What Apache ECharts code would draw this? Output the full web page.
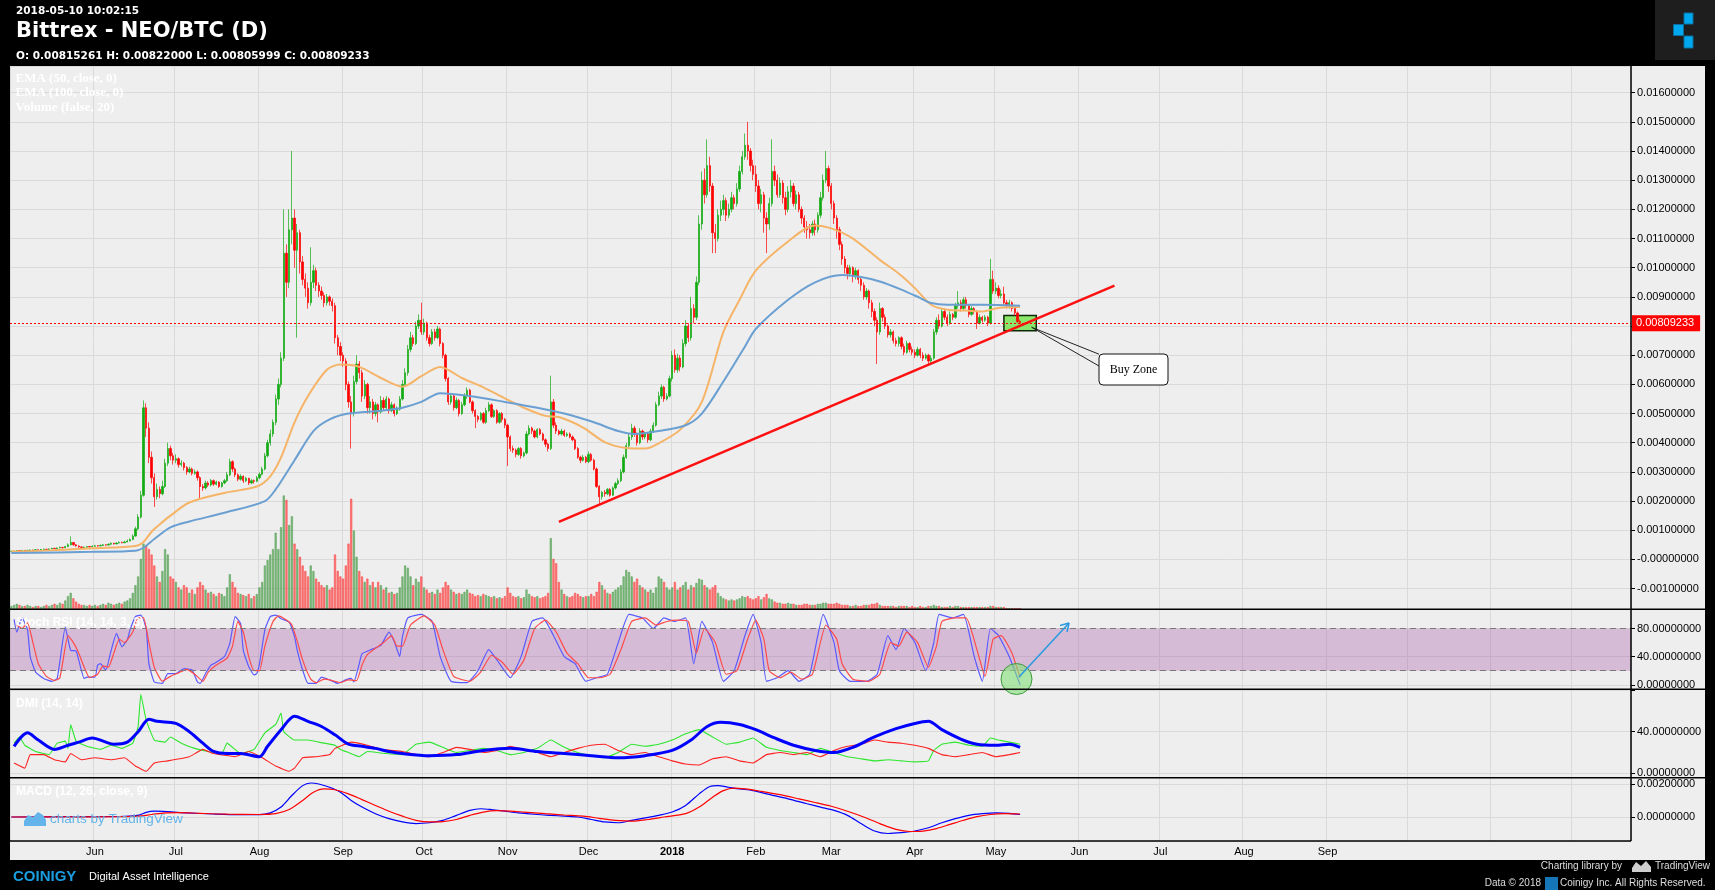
<!DOCTYPE html>
<html><head><meta charset="utf-8">
<script src="https://cdn.jsdelivr.net/npm/echarts@6/dist/echarts.min.js"></script>
<style>html,body{margin:0;padding:0;background:#000;}#c{width:1715px;height:890px;}</style>
</head><body><div id="c"></div>
<script>
// ---------------- DATA ----------------
// daily candles from 2017-05-01, [open, close, low, high] in units of 1e-5 BTC
const candles = [
// May 2017
[27,28,26,30],[28,29,27,30],[29,30,28,32],[30,29,28,31],[29,31,28,32],[31,30,29,32],[30,31,29,33],[31,32,30,34],[32,31,30,33],[31,33,30,35],
[33,32,31,34],[32,34,31,36],[34,35,33,37],[35,34,33,36],[34,36,33,38],[36,38,35,40],[38,37,36,40],[37,39,36,41],[39,41,38,44],[41,40,38,43],
[40,44,39,47],[44,50,43,55],[50,58,48,79],[58,50,47,60],[50,46,44,52],[46,43,40,48],[43,40,38,45],[40,42,39,44],[42,44,41,46],[44,43,41,46],[43,45,42,48],
// Jun
[45,47,44,50],[47,46,44,49],[46,48,45,51],[48,50,47,53],[50,49,47,52],[49,52,48,55],[52,55,51,58],[55,53,51,57],[53,56,52,59],[56,58,55,62],
[58,57,55,61],[57,60,56,64],[60,63,59,68],[63,68,62,72],[68,80,66,86],[80,105,78,112],[105,145,100,155],[145,220,140,235],[220,520,215,545],[520,450,420,535],
[450,350,330,470],[350,280,260,370],[280,215,180,295],[215,240,205,260],[240,225,210,250],[225,250,220,270],[250,330,245,345],[330,380,320,400],[380,355,340,390],[355,340,325,365],
// Jul
[340,345,330,360],[345,325,315,350],[325,330,318,340],[330,315,305,335],[315,300,290,320],[300,310,295,318],[310,295,288,315],[295,300,290,308],[300,280,270,305],[280,250,210,285],
[250,245,235,258],[245,262,240,270],[262,255,248,268],[255,270,250,276],[270,258,252,274],[258,265,254,270],[265,250,245,268],[250,262,246,266],[262,270,258,276],[270,290,265,300],
[290,335,285,345],[335,310,300,340],[310,290,282,315],[290,275,268,295],[275,285,270,292],[285,270,262,288],[270,278,265,283],[278,262,255,280],[262,270,258,275],[270,268,260,274],[268,280,265,286],
// Aug
[280,292,275,298],[292,310,288,318],[310,355,305,365],[355,400,350,410],[400,430,390,445],[430,470,420,480],[470,550,460,565],[550,600,530,620],[600,690,590,710],[690,1050,680,1200],
[1050,950,900,1080],[950,1130,930,1200],[1130,1170,1080,1400],[1170,1060,1000,1200],[1060,1120,760,1150],[1120,1020,980,1130],[1020,960,940,1040],[960,930,900,980],[930,880,860,950],[880,950,870,1070],
[950,990,930,1010],[990,940,920,1000],[940,920,900,950],[920,905,890,935],[905,880,865,915],[880,900,870,910],[900,885,870,905],[885,870,850,895],[870,760,740,880],[760,730,700,770],[730,700,680,745],
// Sep
[700,680,660,710],[680,600,580,690],[600,540,520,610],[540,500,380,560],[500,610,490,630],[610,670,600,700],[670,640,620,680],[640,560,540,650],[560,600,550,615],[600,520,500,605],
[520,540,500,560],[540,500,480,550],[500,530,490,540],[530,505,470,535],[505,545,500,560],[545,520,510,555],[520,550,515,560],[550,510,500,555],[510,530,505,540],[530,500,490,535],
[500,515,495,525],[515,550,510,560],[550,600,545,615],[600,640,595,655],[640,720,630,735],[720,760,710,780],[760,740,730,770],[740,800,735,815],[800,820,790,840],[820,780,770,880],
// Oct
[780,810,770,825],[810,760,750,815],[760,740,730,770],[740,780,735,790],[780,760,750,790],[760,790,755,800],[790,740,730,795],[740,700,690,745],[700,620,610,705],[620,540,530,625],
[540,560,530,570],[560,520,510,565],[520,545,515,555],[545,500,490,550],[500,530,495,540],[530,560,525,570],[560,580,550,590],[580,540,535,585],[540,510,500,545],[510,490,450,515],
[490,480,470,495],[480,500,475,505],[500,470,465,505],[470,510,465,520],[510,530,505,540],[530,490,485,535],[490,510,485,515],[510,470,465,515],[470,500,465,505],[500,480,470,505],[480,460,450,485],
// Nov
[460,420,320,465],[420,380,370,425],[380,375,365,390],[375,360,350,380],[360,380,355,385],[380,355,345,385],[355,365,350,370],[365,430,360,440],[430,450,425,460],[450,440,430,455],
[440,420,415,445],[420,445,415,450],[445,430,425,450],[430,410,405,435],[410,395,385,415],[395,380,370,400],[380,540,375,630],[540,460,450,550],[460,440,430,470],[440,430,425,445],
[430,440,425,448],[440,425,420,445],[425,430,420,436],[430,420,415,435],[420,410,405,425],[410,380,375,415],[380,350,345,385],[350,340,330,355],[340,350,335,358],[350,335,330,355],
// Dec
[335,360,330,370],[360,340,335,365],[340,310,305,345],[310,250,245,315],[250,215,190,255],[215,230,205,235],[230,225,215,238],[225,240,220,245],[240,220,215,245],[220,245,218,250],
[245,260,240,266],[260,270,255,278],[270,300,265,310],[300,350,295,360],[350,390,345,400],[390,420,380,430],[420,450,410,465],[450,430,420,458],[430,400,390,435],[400,440,395,450],
[440,420,410,445],[420,430,412,438],[430,410,400,435],[410,440,405,448],[440,460,435,470],[460,530,455,540],[530,560,525,575],[560,590,550,600],[590,550,540,595],[550,560,545,570],[560,620,555,630],
// Jan 2018
[620,700,610,715],[700,650,640,720],[650,690,640,705],[690,660,645,700],[660,740,655,755],[740,800,730,820],[800,760,745,810],[760,860,750,900],[860,830,810,875],[830,950,820,970],
[950,1150,940,1180],[1150,1300,1130,1330],[1300,1250,1220,1340],[1250,1350,1240,1440],[1350,1280,1260,1380],[1280,1120,1050,1290],[1120,1100,1050,1150],[1100,1180,1090,1200],[1180,1200,1160,1230],[1200,1230,1180,1250],
[1230,1180,1160,1240],[1180,1200,1170,1220],[1200,1240,1190,1260],[1240,1220,1200,1250],[1220,1270,1210,1290],[1270,1330,1260,1350],[1330,1380,1320,1400],[1380,1420,1370,1460],[1420,1400,1370,1500],[1400,1350,1330,1410],[1350,1320,1300,1370],
// Feb
[1320,1280,1260,1350],[1280,1220,1200,1300],[1220,1250,1190,1270],[1250,1170,1120,1260],[1170,1150,1050,1190],[1150,1220,1130,1240],[1220,1330,1210,1440],[1330,1300,1280,1350],[1300,1250,1240,1320],[1250,1290,1240,1310],
[1290,1240,1220,1300],[1240,1200,1180,1260],[1200,1260,1190,1280],[1260,1280,1240,1300],[1280,1220,1210,1290],[1220,1250,1200,1265],[1250,1200,1190,1260],[1200,1170,1150,1210],[1170,1140,1120,1180],[1140,1130,1100,1160],
[1130,1120,1100,1150],[1120,1150,1110,1160],[1150,1130,1110,1165],[1130,1180,1120,1190],[1180,1240,1170,1260],[1240,1300,1230,1320],[1300,1340,1290,1400],[1340,1280,1260,1350],
// Mar
[1280,1220,1200,1290],[1220,1170,1150,1230],[1170,1130,1100,1180],[1130,1080,1060,1140],[1080,1030,1010,1090],[1030,1000,980,1040],[1000,980,960,1010],[980,1000,970,1010],[1000,970,950,1005],[970,990,960,1000],
[990,960,945,995],[960,940,920,970],[940,900,890,950],[900,920,890,930],[920,880,860,925],[880,850,830,890],[850,820,800,860],[820,780,670,830],[780,860,770,880],[860,830,815,865],
[830,800,790,840],[800,770,760,805],[770,780,760,790],[780,750,740,785],[750,740,730,760],[740,760,730,765],[760,730,720,765],[730,710,700,740],[710,740,705,750],[740,720,710,745],[720,710,700,730],
// Apr
[710,700,690,720],[700,720,695,728],[720,700,690,725],[700,690,680,710],[690,700,685,706],[700,680,668,705],[680,690,672,700],[690,780,685,790],[780,820,770,830],[820,800,790,840],
[800,850,795,860],[850,830,820,860],[830,810,800,840],[810,840,805,850],[840,830,820,845],[830,870,825,880],[870,880,860,920],[880,860,850,890],[860,890,855,900],[890,870,860,900],
[870,840,830,875],[840,860,835,870],[860,850,840,865],[850,810,790,855],[810,830,805,840],[830,820,812,835],[820,830,815,838],[830,810,800,835],[810,960,805,1030],[960,920,910,990],
// May 2018
[920,930,910,950],[930,905,895,940],[905,910,895,925],[910,880,870,935],[880,870,860,890],[870,880,860,890],[880,860,850,885],[860,845,835,865],[845,815,810,850],[815.261,809.233,805.999,822]
];
// daily volume (relative bar height)
const volumes = [
3,4,5,4,3,3,4,3,2,3,3,2,3,4,3,4,5,4,6,5,8,12,15,10,7,5,4,4,3,4,3,
4,3,4,5,4,6,5,4,5,6,5,7,8,10,15,22,30,46,60,58,55,50,40,30,25,35,55,50,30,28,
25,20,18,22,20,15,18,14,20,25,22,18,15,16,14,12,15,14,12,20,32,25,20,15,14,13,12,14,10,12,14,
20,25,40,45,50,55,70,55,75,104,100,77,85,60,55,48,40,35,30,40,35,28,25,22,20,22,18,20,50,35,30,
28,40,60,101,72,48,35,30,25,28,22,25,20,25,22,18,20,15,16,14,15,20,30,40,38,30,22,28,25,30,
20,18,15,16,14,18,15,20,25,22,18,16,14,15,14,16,18,15,14,12,13,12,14,13,12,11,12,10,11,10,12,
20,15,12,11,12,10,11,18,14,12,11,12,10,11,12,15,65,46,42,25,18,14,12,11,12,15,14,12,11,12,
12,14,12,16,25,22,18,15,14,16,18,20,22,30,36,34,30,25,28,22,20,18,16,18,15,20,30,28,25,20,18,
20,25,18,20,22,25,18,22,20,24,28,27,22,20,18,20,22,15,12,10,9,8,9,8,9,10,12,11,12,10,9,
10,12,9,11,14,10,9,7,6,6,5,5,6,5,5,4,4,4,5,5,4,4,4,5,5,6,6,5,
5,5,6,5,4,4,4,3,3,4,3,3,4,4,4,5,5,6,4,3,3,3,3,3,2,3,3,3,3,2,3,
2,2,3,2,2,3,3,4,3,3,2,2,2,3,2,3,3,2,2,2,2,2,2,2,2,2,2,2,3,3,
2,2,2,2,1,1,1,1,1,1
];
// [day index from 2017-05-01, value in 1e-5 BTC]
const ema50 = [[0,27],[15,31],[30,38],[46,46],[49,60],[52,95],[55,120],[59,150],[66,195],[79,228],[91,250],[96,285],[100,350],[105,470],[110,560],[117,650],[122,668],[129,660],[137,622],[145,592],[152,628],[159,660],[167,622],[175,590],[183,552],[190,520],[198,492],[203,488],[212,452],[220,402],[228,382],[235,380],[240,398],[248,445],[256,540],[264,780],[270,890],[276,990],[288,1090],[298,1145],[304,1135],[312,1100],[322,1027],[329,980],[335,930],[341,873],[347,856],[354,853],[360,850],[366,862],[374,865]];
const ema100 = [[0,22],[30,26],[46,30],[49,40],[53,70],[59,110],[66,130],[79,160],[94,200],[98,240],[105,340],[112,440],[118,480],[125,500],[137,510],[145,520],[152,540],[159,570],[170,560],[183,540],[195,520],[205,500],[216,470],[225,440],[231,430],[240,440],[250,460],[256,500],[264,610],[272,730],[276,790],[288,890],[298,950],[308,975],[315,968],[322,953],[330,925],[337,896],[341,879],[347,873],[360,873],[374,870]];
const stochK = [[1,93],[2,75],[4,95],[6,78],[7,40],[9,18],[12,9],[15,5],[17,9],[20,82],[21,65],[22,49],[24,48],[25,35],[27,9],[28,11],[31,11],[32,28],[33,30],[35,21],[37,49],[39,73],[41,54],[43,64],[44,78],[46,97],[48,99],[50,80],[51,30],[53,4],[56,2],[58,16],[61,16],[64,23],[67,21],[69,4],[70,2],[72,16],[74,28],[75,30],[79,40],[81,59],[83,97],[85,87],[86,49],[88,26],[90,14],[91,16],[92,30],[94,78],[96,97],[98,99],[100,94],[103,89],[105,68],[106,49],[108,21],[110,2],[113,2],[115,11],[118,7],[121,2],[124,7],[126,9],[127,4],[129,30],[130,44],[134,51],[137,56],[140,75],[142,61],[144,40],[145,68],[147,95],[152,100],[156,90],[159,40],[163,5],[169,3],[173,20],[177,50],[181,30],[185,10],[189,40],[193,90],[197,95],[201,70],[205,40],[209,30],[213,5],[217,10],[221,15],[225,60],[229,100],[234,95],[238,80],[242,95],[246,90],[250,95],[253,30],[256,90],[260,60],[264,5],[268,20],[272,70],[275,100],[278,60],[280,5],[284,10],[288,20],[292,5],[296,15],[301,100],[305,60],[307,20],[311,5],[317,5],[321,15],[325,70],[328,50],[331,80],[335,60],[339,20],[342,60],[344,100],[349,95],[353,100],[357,40],[360,5],[363,80],[366,70],[370,40],[374,0]];
const stochD = [[2,85],[4,80],[6,88],[8,60],[10,30],[13,12],[16,6],[18,10],[21,70],[23,60],[25,45],[27,25],[29,10],[32,15],[34,27],[36,25],[38,45],[40,65],[42,60],[45,75],[47,95],[49,95],[51,60],[53,25],[56,5],[59,12],[62,17],[65,22],[68,15],[71,5],[73,18],[76,28],[80,38],[82,55],[84,90],[86,75],[88,40],[90,20],[92,20],[94,55],[97,90],[99,98],[102,92],[104,85],[106,62],[108,35],[111,8],[113,3],[116,8],[119,6],[122,3],[125,7],[128,6],[130,28],[132,43],[135,52],[138,60],[141,70],[143,55],[145,55],[148,85],[153,98],[157,85],[160,50],[164,12],[170,5],[174,18],[178,42],[182,32],[186,15],[190,35],[194,80],[198,92],[202,75],[206,45],[210,30],[214,10],[218,10],[222,15],[226,50],[230,90],[235,95],[239,85],[243,90],[247,92],[251,90],[254,45],[257,80],[261,60],[265,15],[269,20],[273,65],[276,92],[279,65],[281,20],[285,10],[289,18],[293,8],[297,15],[302,85],[306,65],[308,30],[312,8],[318,5],[322,15],[326,60],[329,55],[332,75],[336,60],[340,25],[343,55],[345,90],[350,95],[354,95],[358,50],[361,12],[364,65],[367,70],[371,45],[374,10]];
const adx = [[1,26],[6,39],[10,32],[16,23],[21,27],[25,30],[30,34],[35,30],[38,28],[43,30],[47,40],[51,52],[54,50],[61,48],[66,40],[71,29],[75,21],[80,19],[85,19],[92,16],[95,26],[100,42],[105,55],[110,50],[115,45],[120,37],[125,28],[130,26],[135,24],[140,21],[145,19],[155,17],[165,18],[175,22],[185,24],[195,21],[205,19],[215,17],[225,15],[235,17],[245,22],[252,32],[258,45],[263,49],[270,47],[276,42],[283,34],[290,27],[298,22],[305,20],[312,25],[320,35],[328,43],[335,48],[340,50],[345,42],[352,33],[358,28],[365,27],[370,28],[374,25]];
const plusDI = [[1,29],[3,35],[5,27],[9,21],[14,18],[17,29],[20,31],[21,24],[22,47],[24,31],[28,26],[33,23],[37,27],[41,24],[45,29],[47,45],[48,76],[50,51],[53,32],[57,30],[59,35],[63,29],[68,24],[73,21],[78,19],[80,29],[85,19],[90,23],[94,39],[98,47],[100,58],[101,40],[105,32],[110,32],[114,30],[120,27],[122,23],[125,20],[129,16],[132,21],[139,19],[145,18],[150,28],[155,30],[160,25],[165,20],[170,22],[175,24],[180,22],[185,18],[190,20],[195,24],[200,32],[205,25],[210,20],[215,17],[220,15],[225,20],[230,28],[235,26],[240,28],[245,32],[250,38],[255,42],[260,35],[265,28],[270,30],[275,34],[280,25],[285,22],[290,20],[295,18],[300,24],[305,20],[310,16],[315,14],[320,12],[325,13],[330,12],[335,11],[340,12],[342,22],[345,28],[350,30],[355,27],[360,26],[363,34],[366,32],[370,30],[374,28]];
const minusDI = [[1,10],[5,5],[7,18],[12,18],[16,13],[20,11],[22,19],[26,13],[31,15],[37,13],[42,15],[46,7],[50,2],[53,10],[58,12],[66,16],[71,23],[75,19],[83,16],[88,21],[93,15],[98,7],[103,2],[105,5],[108,15],[113,16],[118,18],[120,24],[126,30],[132,27],[137,23],[145,21],[150,18],[155,16],[160,20],[165,25],[170,23],[175,20],[180,22],[185,26],[190,23],[195,20],[200,16],[205,20],[210,24],[215,27],[220,28],[225,22],[230,18],[235,20],[240,16],[245,12],[250,9],[255,8],[260,14],[265,16],[270,12],[275,10],[280,18],[285,20],[290,18],[295,20],[300,16],[305,22],[310,26],[315,28],[320,32],[325,30],[330,29],[335,27],[340,24],[345,18],[350,16],[355,18],[360,20],[365,16],[370,18],[374,20]];
// MACD in 1e-5
const macd = [[0,0],[20,2],[40,3],[47,10],[50,28],[53,35],[58,32],[65,25],[75,18],[85,14],[92,14],[96,25],[100,60],[104,130],[108,190],[111,206],[114,200],[118,180],[122,150],[126,100],[130,60],[135,20],[140,-10],[145,-30],[150,-40],[155,-35],[160,-20],[165,10],[170,40],[174,50],[178,45],[183,35],[188,25],[195,15],[200,10],[205,5],[210,0],[215,-15],[220,-30],[225,-35],[230,-20],[235,-5],[240,10],[245,30],[250,70],[255,140],[259,185],[262,190],[266,180],[270,170],[275,160],[280,140],[288,110],[295,80],[300,60],[305,40],[310,10],[315,-40],[320,-85],[325,-100],[330,-95],[335,-85],[340,-65],[345,-35],[350,-10],[355,10],[360,20],[365,25],[370,22],[374,15]];
const macdSignal = [[0,0],[20,1],[40,2],[47,5],[52,15],[57,25],[62,27],[70,22],[80,17],[92,15],[98,20],[103,45],[108,100],[112,150],[116,170],[120,165],[125,140],[130,105],[135,70],[140,35],[145,5],[150,-20],[155,-30],[160,-28],[165,-15],[170,10],[175,30],[180,38],[185,36],[190,30],[198,20],[205,12],[212,5],[218,-8],[224,-20],[230,-25],[236,-15],[242,0],[250,20],[255,60],[260,120],[264,160],[268,175],[272,170],[278,155],[285,135],[292,110],[298,88],[304,65],[310,35],[316,0],[322,-40],[328,-75],[333,-88],[338,-85],[343,-70],[348,-45],[353,-20],[358,2],[363,15],[368,20],[374,18]];
const lastPrice = 0.00809233;
const trendLine = [['2017-11-20', 0.001289], ['2018-06-14', 0.009387]];
const buyZone = [['2018-05-04', 0.00836], ['2018-05-16', 0.00784]];
const monthNames = ['Jan','Feb','Mar','Apr','May','Jun','Jul','Aug','Sep','Oct','Nov','Dec'];
const AXIS_DAYS = 601;

// ---------------- BUILD ----------------
const dates = [];
for (let i = 0; i < AXIS_DAYS; i++) dates.push(new Date(Date.UTC(2017, 4, 1 + i)).toISOString().slice(0, 10));
const U = 1e-5;
const candleData = candles.map(c => [c[0]*U, c[1]*U, c[2]*U, c[3]*U]);
const volData = volumes.map((v, i) => {
  const up = candles[i][1] >= candles[i][0];
  return {value: v, itemStyle: {color: up ? 'rgba(60,160,60,0.62)' : 'rgba(255,60,60,0.62)', borderColor: up ? '#4c964c' : '#ff3030', borderWidth: 0.5}};
});
const scaled = (arr) => arr.map(p => [p[0], p[1]*U]);
const isMonthStart = (idx, val) => val.slice(8) === '01';
const SANS = '"Liberation Sans", Arial, sans-serif';

const GRIDS = [
  {left: 10, right: 84, top: 66, height: 543.3},
  {left: 10, right: 84, top: 609.3, height: 80},
  {left: 10, right: 84, top: 689.3, height: 88.4},
  {left: 10, right: 84, top: 777.7, height: 63.4},
  {left: 10, right: 84, top: 66, height: 543.3}
];
const xAxes = GRIDS.map((g, i) => ({
  type: 'category', gridIndex: i, data: dates, boundaryGap: true,
  axisLine: {show: false}, axisTick: {show: false},
  axisLabel: {
    show: i === 3, interval: (idx, val) => val.slice(8) === '01' && val >= '2017-06-01' && val <= '2018-09-01',
    formatter: (val) => { const m = +val.slice(5, 7); return m === 1 ? '{y|' + val.slice(0, 4) + '}' : monthNames[m - 1]; },
    color: '#000', fontSize: 11, fontFamily: SANS, margin: 5,
    rich: {y: {fontWeight: 'bold', fontSize: 11, color: '#000', fontFamily: SANS}}
  },
  splitLine: {show: i !== 4, interval: isMonthStart, lineStyle: {color: '#dadada', width: 1}}
}));
const fmt8 = (zeroTxt) => (v) => Math.abs(v) < 1e-12 ? zeroTxt : v.toFixed(8);
const yBase = (gi, min, max, step, fmt) => ({
  type: 'value', gridIndex: gi, position: 'right', min: min, max: max,
  splitNumber: Math.round((max - min) / step), minInterval: step, maxInterval: step,
  axisLine: {show: false}, axisTick: {show: true, length: 4, lineStyle: {color: '#000'}},
  axisLabel: {color: '#000', fontSize: 11, fontFamily: SANS, margin: 6, showMinLabel: false, showMaxLabel: false, formatter: fmt},
  splitLine: {show: true, lineStyle: {color: '#dadada', width: 1}}
});
const yAxes = [
  yBase(0, -0.00171, 0.016915, 0.001, fmt8('-0.00000000')),
  yBase(1, -6.4, 107.3, 40, fmt8('0.00000000')),
  yBase(2, -4.2, 80.8, 40, (v) => v > 60 ? '' : fmt8('0.00000000')(v)),
  yBase(3, -0.00146, 0.00238, 0.002, fmt8('0.00000000')),
  {type: 'value', gridIndex: 4, min: 0, max: 496.7, show: false, splitLine: {show: false}}
];
const lineS = (name, data, xi, color, width, smooth) => ({
  name: name, type: 'line', xAxisIndex: xi, yAxisIndex: xi, data: data, showSymbol: false, symbol: 'none',
  smooth: smooth, lineStyle: {color: color, width: width}, silent: true, animation: false
});

const series = [
  {type: 'bar', xAxisIndex: 4, yAxisIndex: 4, data: volData, barWidth: 2, silent: true, animation: false},
  {type: 'candlestick', xAxisIndex: 0, yAxisIndex: 0, data: candleData, barWidth: 1.8, animation: false,
   itemStyle: {color: '#12aa12', color0: '#ff0000', borderColor: '#12aa12', borderColor0: '#ff0000', borderWidth: 0.7},
   markLine: {silent: true, symbol: ['none', 'none'], animation: false, precision: 10, data: [
     [{coord: trendLine[0], lineStyle: {color: '#ff1010', width: 2.5, type: 'solid'}, label: {show: false}}, {coord: trendLine[1]}]
   ]},
   markArea: {silent: true, data: [[{coord: buyZone[0], itemStyle: {color: 'rgba(110,230,70,0.78)', borderColor: '#0c2a08', borderWidth: 1.5}}, {coord: buyZone[1]}]]}
  },
  Object.assign(lineS('EMA50', scaled(ema50), 0, '#f5b467', 2, 0.3), {
    markLine: {silent: true, symbol: ['none', 'none'], animation: false, precision: 10, data: [
      {yAxis: lastPrice, lineStyle: {color: '#ff0000', type: [2, 2], width: 1},
       label: {show: true, position: 'end', formatter: lastPrice.toFixed(8), color: '#fff', backgroundColor: '#ff0000', padding: [3, 6, 2, 4], fontSize: 11, fontFamily: SANS, distance: 1}}
    ]}
  }),
  lineS('EMA100', scaled(ema100), 0, '#6a9fd2', 2, 0.3),
  Object.assign(lineS('K', stochK, 1, '#5a5aff', 1.2, 0.15), {
    markArea: {silent: true, data: [[{yAxis: 20, itemStyle: {color: 'rgba(153,51,153,0.27)'}}, {yAxis: 80}]]},
    markLine: {silent: true, symbol: ['none', 'none'], label: {show: false}, lineStyle: {color: '#7a7a7a', type: [6, 4], width: 1}, data: [{yAxis: 80}, {yAxis: 20}]}
  }),
  lineS('D', stochD, 1, '#ff4a4a', 1.2, 0.15),
  lineS('+DI', plusDI, 2, '#2ee62e', 1.1, 0.1),
  lineS('-DI', minusDI, 2, '#ff2020', 1.1, 0.1),
  lineS('ADX', adx, 2, '#0000ff', 3, 0.3),
  lineS('MACD', scaled(macd), 3, '#0000ff', 1.2, 0.3),
  lineS('Signal', scaled(macdSignal), 3, '#ff0000', 1.2, 0.3)
];

const T = (x, y, text, font, fill, align) => ({type: 'text', x: x, y: y, silent: true, z: 100,
  style: {text: text, font: font, fill: fill, align: align || 'left', verticalAlign: 'middle'}});
const R = (x, y, w, h, fill, z) => ({type: 'rect', shape: {x: x, y: y, width: w, height: h}, style: {fill: fill}, silent: true, z: z || 90});
const L = (x1, y1, x2, y2, stroke, w, z) => ({type: 'line', shape: {x1: x1, y1: y1, x2: x2, y2: y2}, style: {stroke: stroke, lineWidth: w}, silent: true, z: z || 95});
const P = (pts, fill, z) => ({type: 'polygon', shape: {points: pts}, style: {fill: fill}, silent: true, z: z || 100});
const DJ = '"DejaVu Sans", Verdana, sans-serif';
const graphic = [
  // black frame
  R(0, 0, 1715, 66, '#000'), R(0, 860, 1715, 30, '#000'), R(0, 0, 10, 890, '#000'), R(1705, 0, 10, 890, '#000'),
  R(1655, 0, 60, 60, '#1e1e1e', 91),
  {type: 'rect', shape: {x: 1684, y: 13, width: 9, height: 11}, style: {fill: '#00a9ef', stroke: '#0a6f9c', lineWidth: 1}, z: 92, silent: true},
  {type: 'rect', shape: {x: 1673.5, y: 24.5, width: 10, height: 11}, style: {fill: '#00a9ef', stroke: '#0a6f9c', lineWidth: 1}, z: 92, silent: true},
  {type: 'rect', shape: {x: 1684, y: 36, width: 9, height: 12}, style: {fill: '#00a9ef', stroke: '#0a6f9c', lineWidth: 1}, z: 92, silent: true},
  // panel borders
  L(10, 609.3, 1705, 609.3, '#000', 1.5), L(10, 689.3, 1705, 689.3, '#000', 1.5), L(10, 777.7, 1705, 777.7, '#000', 1.5),
  L(10, 841.1, 1631, 841.1, '#000', 1.5), L(1631, 66, 1631, 841.1, '#000', 1.5),
  // header texts
  T(16, 11.7, '2018-05-10 10:02:15', 'bold 10.5px ' + DJ, '#fff'),
  T(16, 32, 'Bittrex - NEO/BTC (D)', 'bold 21px ' + DJ, '#fff'),
  T(16, 56, 'O: 0.00815261 H: 0.00822000 L: 0.00805999 C: 0.00809233', 'bold 10.5px ' + DJ, '#fff'),
  // panel legends
  T(15.5, 78.5, 'EMA (50, close, 0)', 'bold 13px "Liberation Serif", serif', '#fff'),
  T(15.5, 93, 'EMA (100, close, 0)', 'bold 13px "Liberation Serif", serif', '#fff'),
  T(15.5, 107.7, 'Volume (false, 20)', 'bold 13px "Liberation Serif", serif', '#fff'),
  T(16, 622.7, 'Stoch RSI (14, 14, 3, 3)', 'bold 12px ' + SANS, '#fff'),
  T(16, 703.3, 'DMI (14, 14)', 'bold 12px ' + SANS, '#fff'),
  T(16, 791.7, 'MACD (12, 26, close, 9)', 'bold 12px ' + SANS, '#fff'),
  // watermark
  P([[24,826],[24,821],[28,815],[33,817],[38,812],[43,815],[46,820],[46,826]], '#62b4ea'),
  T(50, 819.5, 'charts by TradingView', '13.5px ' + SANS, '#62b4ea'),
  // footer
  T(13, 876.5, 'COINIGY', 'bold 15px ' + SANS, '#1b9de2'),
  T(89, 877, 'Digital Asset Intelligence', '11px ' + SANS, '#fff'),
  T(1622, 866.7, 'Charting library by', '10px ' + SANS, '#dedede', 'right'),
  P([[1632,872],[1632,868],[1636,862],[1641,866],[1646,861],[1651,867],[1651,872]], '#cfcfcf'),
  T(1655, 866.7, 'TradingView', '10px ' + SANS, '#dedede'),
  T(1541, 883, 'Data © 2018', '10px ' + SANS, '#dedede', 'right'),
  R(1545, 877, 13, 13, '#1677b8', 100),
  T(1560, 883, 'Coinigy Inc. All Rights Reserved.', '10px ' + SANS, '#dedede'),
  // Buy Zone callout
  L(1031.7, 327.3, 1099, 354.2, '#222', 1, 60), L(1031.7, 327.3, 1099, 366, '#222', 1, 60),
  {type: 'rect', shape: {x: 1099, y: 354, width: 69, height: 31, r: 4}, style: {fill: '#fff', stroke: '#111', lineWidth: 1}, z: 61, silent: true},
  T(1133.5, 369.5, 'Buy Zone', '12px "Liberation Serif", serif', '#000', 'center'),
  // stoch annotation
  {type: 'circle', shape: {cx: 1016.5, cy: 679, r: 15.5}, style: {fill: 'rgba(130,225,120,0.6)', stroke: '#3c9a3c', lineWidth: 1}, z: 60, silent: true},
  L(1019, 677, 1069, 623, '#2d9be0', 1.6, 61),
  L(1069, 623, 1060, 625.5, '#2d9be0', 1.6, 61), L(1069, 623, 1067, 632, '#2d9be0', 1.6, 61)
];

const chart = echarts.init(document.getElementById('c'), null, {renderer: 'canvas'});
chart.setOption({
  backgroundColor: '#eeeeee', animation: false,
  grid: GRIDS, xAxis: xAxes, yAxis: yAxes, series: series, graphic: graphic
});
</script></body></html>
